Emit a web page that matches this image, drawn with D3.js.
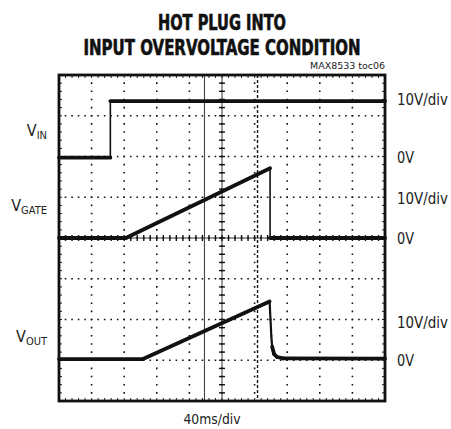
<!DOCTYPE html>
<html>
<head>
<meta charset="utf-8">
<script src="https://cdn.jsdelivr.net/npm/d3@7"></script>
<style>
  body { margin: 0; background: #fff; }
  svg { display: block; }
  text { font-family: "Liberation Sans Narrow", "DejaVu Sans Condensed", "Liberation Sans", sans-serif; fill: #222; }
</style>
</head>
<body>
<svg id="chart" width="451" height="429"></svg>
<script>
// Scope shot: time in ms, voltages in V (10V/div, 40ms/div)

var titleLines = ["HOT PLUG INTO", "INPUT OVERVOLTAGE CONDITION"];
var tocLabel = "MAX8533 toc06";
var timeLabel = "40ms/div";

// channel names, 0V reference position (in divisions from centre)
var channels = [
  { main: "V", sub: "IN",   zero: 2,  labelDiv: 0.65 },
  { main: "V", sub: "GATE", zero: 0,  labelDiv: 0.8 },
  { main: "V", sub: "OUT",  zero: -3, labelDiv: 0.6 }
];
var scaleLabels = ["10V/div", "10V/div", "10V/div"];
var scaleLabelDiv = [1.4, 0.98, 0.95];

// traces [ms, V]
var vin = [[0, -0.3], [63, -0.3], [63, 13.6], [400, 13.6]];
var vgate = [[0, 0], [82, 0], [259, 17.1], [259, 0], [400, 0]];
var vout = [[0, 0.3], [103, 0.3], [258.4, 14.4], [259.5, 10], [260.5, 6],
            [261.5, 3.3], [264, 1.5], [267.5, 0.8], [275, 0.45], [400, 0.4]];

var cursorsSolid = [178.5];
var cursorsDashed = [243.6];

var svg = d3.select("#chart");
var x0 = 59, x1 = 385, y0 = 75, y1 = 401;

var x = d3.scaleLinear().domain([0, 400]).range([x0, x1]);
var yDiv = d3.scaleLinear().domain([-4, 4]).range([y1, y0]);
function yv(ch, v) { return yDiv(channels[ch].zero + v / 10); }

var xMinor = (x1 - x0) / 50, yMinor = (y1 - y0) / 40;

// title
svg.selectAll("text.title")
  .data(titleLines)
  .enter()
  .append("text")
  .attr("class", "title")
  .attr("x", 222)
  .attr("y", function(d, i) { return 30 + i * 24.5; })
  .attr("text-anchor", "middle")
  .attr("font-size", 21)
  .attr("font-weight", "bold")
  .attr("textLength", function(d, i) { return i ? 277 : 128; })
  .attr("lengthAdjust", "spacingAndGlyphs")
  .style("fill", "#111")
  .style("stroke", "#111")
  .style("stroke-width", 0.6)
  .text(function(d) { return d; });

svg.append("text")
  .attr("x", 385).attr("y", 69)
  .attr("text-anchor", "end")
  .attr("font-size", 8.5)
  .attr("textLength", 75)
  .attr("lengthAdjust", "spacingAndGlyphs")
  .text(tocLabel);

// grid
var grid = svg.append("g");
var majorX = d3.range(1, 10).map(function(i) { return x0 + i * (x1 - x0) / 10; });
var majorY = d3.range(1, 8).map(function(i) { return y0 + i * (y1 - y0) / 8; });

grid.selectAll("line.hgrid")
  .data(majorY)
  .enter()
  .append("line")
  .attr("x1", x0).attr("x2", x1)
  .attr("y1", function(d) { return d; }).attr("y2", function(d) { return d; })
  .attr("stroke", "#111")
  .attr("stroke-width", 1.6)
  .attr("stroke-dasharray", "1.6," + (xMinor - 1.6))
  .attr("stroke-dashoffset", 0.8);

grid.selectAll("line.vgrid")
  .data(majorX)
  .enter()
  .append("line")
  .attr("y1", y0).attr("y2", y1)
  .attr("x1", function(d) { return d; }).attr("x2", function(d) { return d; })
  .attr("stroke", "#111")
  .attr("stroke-width", 1.6)
  .attr("stroke-dasharray", "1.6," + (yMinor - 1.6))
  .attr("stroke-dashoffset", 0.8);

// centre axes with minor ticks
var cx = (x0 + x1) / 2, cy = (y0 + y1) / 2;
grid.append("line")
  .attr("x1", x0).attr("x2", x1).attr("y1", cy).attr("y2", cy)
  .attr("stroke", "#333").attr("stroke-width", 1);
grid.append("line")
  .attr("x1", cx).attr("x2", cx).attr("y1", y0).attr("y2", y1)
  .attr("stroke", "#333").attr("stroke-width", 1);

grid.selectAll("line.xtick")
  .data(d3.range(1, 50))
  .enter()
  .append("line")
  .attr("x1", function(d) { return x0 + d * xMinor; })
  .attr("x2", function(d) { return x0 + d * xMinor; })
  .attr("y1", cy - 3).attr("y2", cy + 3)
  .attr("stroke", "#111").attr("stroke-width", 1.4);

grid.selectAll("line.ytick")
  .data(d3.range(1, 40))
  .enter()
  .append("line")
  .attr("y1", function(d) { return y0 + d * yMinor; })
  .attr("y2", function(d) { return y0 + d * yMinor; })
  .attr("x1", cx - 3).attr("x2", cx + 3)
  .attr("stroke", "#111").attr("stroke-width", 1.4);

// border ticks
[y0, y1].forEach(function(yy, k) {
  grid.selectAll(null)
    .data(d3.range(1, 50))
    .enter()
    .append("line")
    .attr("x1", function(d) { return x0 + d * xMinor; })
    .attr("x2", function(d) { return x0 + d * xMinor; })
    .attr("y1", yy).attr("y2", k ? yy - 3 : yy + 3)
    .attr("stroke", "#222").attr("stroke-width", 1);
});
[x0, x1].forEach(function(xx, k) {
  grid.selectAll(null)
    .data(d3.range(1, 40))
    .enter()
    .append("line")
    .attr("y1", function(d) { return y0 + d * yMinor; })
    .attr("y2", function(d) { return y0 + d * yMinor; })
    .attr("x1", xx).attr("x2", k ? xx - 3 : xx + 3)
    .attr("stroke", "#222").attr("stroke-width", 1);
});

// cursors
grid.selectAll("line.cursor")
  .data(cursorsSolid)
  .enter()
  .append("line")
  .attr("x1", function(d) { return x(d); }).attr("x2", function(d) { return x(d); })
  .attr("y1", y0).attr("y2", y1)
  .attr("stroke", "#444").attr("stroke-width", 1.1);

grid.selectAll("line.cursorDash")
  .data(cursorsDashed)
  .enter()
  .append("line")
  .attr("x1", function(d) { return x(d); }).attr("x2", function(d) { return x(d); })
  .attr("y1", y0).attr("y2", y1)
  .attr("stroke", "#111").attr("stroke-width", 1.4)
  .attr("stroke-dasharray", "3,2");

// traces - fast edges drawn thinner like on the scope
function drawTrace(data, ch) {
  var pts = data.map(function(d) { return [x(d[0]), yv(ch, d[1])]; });
  var segs = d3.pairs(pts);
  svg.append("g").selectAll("line")
    .data(segs)
    .enter()
    .append("line")
    .attr("x1", function(d) { return d[0][0]; })
    .attr("y1", function(d) { return d[0][1]; })
    .attr("x2", function(d) { return d[1][0]; })
    .attr("y2", function(d) { return d[1][1]; })
    .attr("stroke", "#111")
    .attr("stroke-linecap", "round")
    .attr("stroke-width", function(d) {
      var dx = Math.abs(d[1][0] - d[0][0]), dy = Math.abs(d[1][1] - d[0][1]);
      if (dx < 0.5) return 1.6;
      return dy / dx > 5 ? 2.2 : 3.8;
    });
}
drawTrace(vin, 0);
drawTrace(vgate, 1);
drawTrace(vout, 2);

// frame
svg.append("rect")
  .attr("x", x0).attr("y", y0)
  .attr("width", x1 - x0).attr("height", y1 - y0)
  .attr("fill", "none")
  .attr("stroke", "#111")
  .attr("stroke-width", 2.8);

// channel labels on the left
channels.forEach(function(c, i) {
  var t = svg.append("text")
    .attr("x", 47)
    .attr("y", yDiv(c.zero + c.labelDiv) + 6)
    .attr("text-anchor", "end")
    .attr("font-size", 16);
  t.append("tspan").text(c.main);
  t.append("tspan").attr("font-size", 11).attr("dy", 3).text(c.sub);
});

// scale labels on the right
svg.selectAll("text.scale")
  .data(scaleLabels)
  .enter()
  .append("text")
  .attr("x", 397)
  .attr("y", function(d, i) { return yDiv(channels[i].zero + scaleLabelDiv[i]) + 6; })
  .attr("font-size", 15)
  .attr("textLength", 51)
  .attr("lengthAdjust", "spacingAndGlyphs")
  .text(function(d) { return d; });

svg.selectAll("text.zero")
  .data(channels)
  .enter()
  .append("text")
  .attr("x", 397)
  .attr("y", function(d) { return yDiv(d.zero) + 6; })
  .attr("font-size", 15)
  .attr("textLength", 17)
  .attr("lengthAdjust", "spacingAndGlyphs")
  .text("0V");

svg.append("text")
  .attr("x", 212).attr("y", 424)
  .attr("text-anchor", "middle")
  .attr("font-size", 14)
  .attr("textLength", 57)
  .attr("lengthAdjust", "spacingAndGlyphs")
  .text(timeLabel);
</script>
</body>
</html>
